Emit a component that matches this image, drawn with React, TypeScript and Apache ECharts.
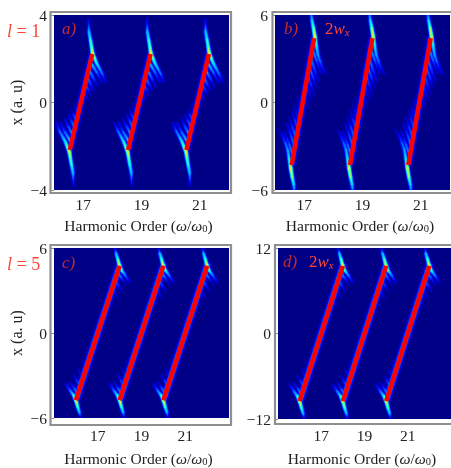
import React, { useEffect, useRef } from "react";
import * as echarts from "echarts";

type Node = [number, number, number];

const copyOffsets = [0, 2, 4];
const tickX = [17, 19, 21];
const harmonicTitle = "{n|Harmonic Order (}{i|ω}{n|/}{i|ω}{s|0}{n|)}";

// Red classical trajectories, first copy of each panel
const trajA: [number, number][] = [[16.54, -2.17], [17.31, 2.22]];
const trajB: [number, number][] = [[16.57, -4.29], [17.34, 4.42]];
const trajC: [number, number][] = [[16, -4.75], [18, 4.75]];
const trajD: [number, number][] = [[16, -9.5], [18, 9.5]];

// Bright arcs and fringes: [harmonic, x, relative intensity]
const streaksA: Node[][] = [
  [[16.54, -2.17, 0.3], [17.31, 2.22, 0.3]],
  [[17.18, 3.85, 0.1], [17.2, 3.22, 0.45], [17.25, 2.85, 0.6], [17.29, 2.53, 0.7], [17.32, 2.26, 0.88], [17.39, 2.03, 0.7], [17.46, 1.8, 0.55], [17.53, 1.62, 0.45], [17.66, 1.3, 0.3], [17.77, 0.94, 0.12]],
  [[17.29, 1.76, 0.5], [17.46, 1.39, 0.32], [17.63, 0.94, 0.12]],
  [[17.22, 1.44, 0.45], [17.35, 1.12, 0.28], [17.49, 0.75, 0.1]],
  [[17.15, 1.12, 0.42], [17.25, 0.84, 0.25], [17.35, 0.57, 0.1]],
  [[17.08, 0.8, 0.38], [17.18, 0.57, 0.22], [17.25, 0.34, 0.08]],
  [[17.01, 0.48, 0.32], [17.08, 0.3, 0.18], [17.15, 0.11, 0.06]],
  [[16.94, 0.16, 0.25], [17.01, -0.02, 0.1]],
  [[16.87, -0.16, 0.15], [16.94, -0.34, 0.06]],
  [[16.67, -3.85, 0.1], [16.65, -3.22, 0.45], [16.6, -2.85, 0.6], [16.56, -2.53, 0.7], [16.53, -2.26, 0.88], [16.46, -2.03, 0.7], [16.39, -1.8, 0.55], [16.32, -1.62, 0.45], [16.19, -1.3, 0.3], [16.08, -0.94, 0.12]],
  [[16.56, -1.76, 0.5], [16.39, -1.39, 0.32], [16.22, -0.94, 0.12]],
  [[16.63, -1.44, 0.45], [16.5, -1.12, 0.28], [16.36, -0.75, 0.1]],
  [[16.7, -1.12, 0.42], [16.6, -0.84, 0.25], [16.5, -0.57, 0.1]],
  [[16.77, -0.8, 0.38], [16.67, -0.57, 0.22], [16.6, -0.34, 0.08]],
  [[16.84, -0.48, 0.32], [16.77, -0.3, 0.18], [16.7, -0.11, 0.06]],
  [[16.91, -0.16, 0.25], [16.84, 0.02, 0.1]],
  [[16.98, 0.16, 0.15], [16.91, 0.34, 0.06]],
];

const streaksB: Node[][] = [
  [[16.57, -4.29, 0.3], [17.34, 4.42, 0.3]],
  [[17.24, 6.1, 0.3], [17.27, 5.6, 0.5], [17.32, 5.11, 0.72], [17.37, 4.5, 0.88], [17.42, 3.9, 0.55], [17.47, 3.26, 0.4], [17.55, 2.8, 0.3], [17.63, 2.37, 0.2], [17.77, 1.89, 0.08]],
  [[17.27, 3.7, 0.45], [17.42, 2.9, 0.3], [17.58, 2.0, 0.1]],
  [[17.22, 3.1, 0.42], [17.35, 2.3, 0.27], [17.5, 1.45, 0.1]],
  [[17.17, 2.5, 0.4], [17.3, 1.75, 0.25], [17.42, 1.0, 0.08]],
  [[17.12, 1.9, 0.35], [17.23, 1.2, 0.22], [17.33, 0.55, 0.08]],
  [[17.06, 1.3, 0.3], [17.16, 0.7, 0.18], [17.25, 0.1, 0.06]],
  [[17.01, 0.7, 0.25], [17.1, 0.1, 0.12], [17.17, -0.4, 0.05]],
  [[16.96, 0.1, 0.18], [17.04, -0.5, 0.06]],
  [[16.9, -0.5, 0.12], [16.98, -1.1, 0.05]],
  [[16.67, -6.1, 0.3], [16.64, -5.6, 0.5], [16.59, -5.11, 0.72], [16.54, -4.5, 0.88], [16.49, -3.9, 0.55], [16.44, -3.26, 0.4], [16.36, -2.8, 0.3], [16.28, -2.37, 0.2], [16.14, -1.89, 0.08]],
  [[16.64, -3.7, 0.45], [16.49, -2.9, 0.3], [16.33, -2.0, 0.1]],
  [[16.69, -3.1, 0.42], [16.56, -2.3, 0.27], [16.41, -1.45, 0.1]],
  [[16.74, -2.5, 0.4], [16.61, -1.75, 0.25], [16.49, -1.0, 0.08]],
  [[16.79, -1.9, 0.35], [16.68, -1.2, 0.22], [16.58, -0.55, 0.08]],
  [[16.85, -1.3, 0.3], [16.75, -0.7, 0.18], [16.66, -0.1, 0.06]],
  [[16.9, -0.7, 0.25], [16.81, -0.1, 0.12], [16.74, 0.4, 0.05]],
  [[16.95, -0.1, 0.18], [16.87, 0.5, 0.06]],
  [[17.01, 0.5, 0.12], [16.93, 1.1, 0.05]],
];

const streaksC: Node[][] = [
  [[16, -4.75, 0.45], [18, 4.75, 0.45]],
  [[17.78, 6.0, 0.12], [17.84, 5.6, 0.45], [17.92, 5.2, 0.65], [17.99, 4.78, 0.88], [18.1, 4.4, 0.6], [18.25, 4.09, 0.35], [18.4, 3.72, 0.18], [18.5, 3.5, 0.06]],
  [[17.85, 4.45, 0.5], [18.05, 3.95, 0.3], [18.28, 3.4, 0.08]],
  [[17.73, 3.9, 0.42], [17.93, 3.4, 0.25], [18.12, 2.9, 0.06]],
  [[17.6, 3.35, 0.35], [17.78, 2.85, 0.18], [17.95, 2.4, 0.05]],
  [[17.45, 2.75, 0.28], [17.62, 2.25, 0.12], [17.75, 1.9, 0.05]],
  [[17.3, 2.1, 0.18], [17.45, 1.6, 0.06]],
  [[16.22, -6.0, 0.12], [16.16, -5.6, 0.45], [16.08, -5.2, 0.65], [16.01, -4.78, 0.88], [15.9, -4.4, 0.6], [15.75, -4.09, 0.35], [15.6, -3.72, 0.18], [15.5, -3.5, 0.06]],
  [[16.15, -4.45, 0.5], [15.95, -3.95, 0.3], [15.72, -3.4, 0.08]],
  [[16.27, -3.9, 0.42], [16.07, -3.4, 0.25], [15.88, -2.9, 0.06]],
  [[16.4, -3.35, 0.35], [16.22, -2.85, 0.18], [16.05, -2.4, 0.05]],
  [[16.55, -2.75, 0.28], [16.38, -2.25, 0.12], [16.25, -1.9, 0.05]],
  [[16.7, -2.1, 0.18], [16.55, -1.6, 0.06]],
];

const streaksD: Node[][] = [
  [[16, -9.5, 0.45], [18, 9.5, 0.45]],
  [[17.78, 12.0, 0.12], [17.84, 11.2, 0.45], [17.92, 10.4, 0.65], [17.99, 9.56, 0.88], [18.1, 8.8, 0.6], [18.25, 8.18, 0.35], [18.4, 7.44, 0.18], [18.5, 7.0, 0.06]],
  [[17.85, 8.9, 0.5], [18.05, 7.9, 0.3], [18.28, 6.8, 0.08]],
  [[17.73, 7.8, 0.42], [17.93, 6.8, 0.25], [18.12, 5.8, 0.06]],
  [[17.6, 6.7, 0.35], [17.78, 5.7, 0.18], [17.95, 4.8, 0.05]],
  [[17.45, 5.5, 0.28], [17.62, 4.5, 0.12], [17.75, 3.8, 0.05]],
  [[17.3, 4.2, 0.18], [17.45, 3.2, 0.06]],
  [[16.22, -12.0, 0.12], [16.16, -11.2, 0.45], [16.08, -10.4, 0.65], [16.01, -9.56, 0.88], [15.9, -8.8, 0.6], [15.75, -8.18, 0.35], [15.6, -7.44, 0.18], [15.5, -7.0, 0.06]],
  [[16.15, -8.9, 0.5], [15.95, -7.9, 0.3], [15.72, -6.8, 0.08]],
  [[16.27, -7.8, 0.42], [16.07, -6.8, 0.25], [15.88, -5.8, 0.06]],
  [[16.4, -6.7, 0.35], [16.22, -5.7, 0.18], [16.05, -4.8, 0.05]],
  [[16.55, -5.5, 0.28], [16.38, -4.5, 0.12], [16.25, -3.8, 0.05]],
  [[16.7, -4.2, 0.18], [16.55, -3.2, 0.06]],
];

const levels = [0.04, 0.08, 0.13, 0.2, 0.28, 0.37, 0.47, 0.58, 0.7, 0.82];
const levelColors = ["#0000a8", "#0000cc", "#0000f0", "#0030ff", "#0070ff", "#00b0ff", "#00e8f0", "#40ffb0", "#b0ff50", "#ffe020"];

const SERIF = "'Liberation Serif', 'Times New Roman', serif";
const INK = "#222222";
const FRAME = "#8f8f8f";
const NAVY = "#000086";

const panels = [
  { left: 54, top: 15, width: 175, height: 175, xMin: 16, xMax: 22, yTicks: [-4, 0, 4], traj: trajA, streaks: streaksA, sigma: 1.25, title: true, tickGap: 6, nameGap: 27, shift: 6 },
  { left: 275, top: 15, width: 175, height: 175, xMin: 16, xMax: 22, yTicks: [-6, 0, 6], traj: trajB, streaks: streaksB, sigma: 1.25, title: false, tickGap: 6, nameGap: 27, shift: 5 },
  { left: 54, top: 248, width: 175, height: 174, xMin: 15, xMax: 23, yTicks: [-6, 0, 6], traj: trajC, streaks: streaksC, sigma: 1.2, title: true, tickGap: 9, nameGap: 32, shift: 6 },
  { left: 278, top: 248, width: 173, height: 173, xMin: 15, xMax: 23, yTicks: [-12, 0, 12], traj: trajD, streaks: streaksD, sigma: 1.2, title: false, tickGap: 8, nameGap: 31, shift: 5 },
];

function buildCells(streaks: Node[][], sigma: number) {
  const cells: number[][] = [];
  levels.forEach((level, li) => {
    streaks.forEach((nodes, si) => {
      const s = si === 0 ? sigma * 1.9 : sigma;
      copyOffsets.forEach((off) => {
        for (let i = 0; i + 1 < nodes.length; i++) {
          const a = nodes[i];
          const b = nodes[i + 1];
          if (a[2] <= level && b[2] <= level) continue;
          cells.push([a[0] + off, a[1], a[2], b[0] + off, b[1], b[2], li, s]);
        }
      });
    });
  });
  return cells;
}

function contourWidth(v: number, level: number, sigma: number) {
  return v > level ? 2 * sigma * Math.sqrt(2 * Math.log(v / level)) : 0;
}

function renderCell(_: unknown, api: any) {
  const li = api.value(6);
  const level = levels[li];
  const sigma = api.value(7);
  const color = levelColors[li];
  let v0 = api.value(2);
  let v1 = api.value(5);
  let p0 = api.coord([api.value(0), api.value(1)]);
  let p1 = api.coord([api.value(3), api.value(4)]);
  if (v0 < level || v1 < level) {
    const t = (level - v0) / (v1 - v0);
    const mid = [p0[0] + (p1[0] - p0[0]) * t, p0[1] + (p1[1] - p0[1]) * t];
    if (v0 < level) {
      p0 = mid;
      v0 = level;
    } else {
      p1 = mid;
      v1 = level;
    }
  }
  const w0 = contourWidth(v0, level, sigma) / 2;
  const w1 = contourWidth(v1, level, sigma) / 2;
  const dx = p1[0] - p0[0];
  const dy = p1[1] - p0[1];
  const len = Math.hypot(dx, dy) || 1;
  const nx = -dy / len;
  const ny = dx / len;
  const style = { fill: color, stroke: color, lineWidth: 0.3 };
  const children: any[] = [
    {
      type: "polygon",
      shape: {
        points: [
          [p0[0] + nx * w0, p0[1] + ny * w0],
          [p1[0] + nx * w1, p1[1] + ny * w1],
          [p1[0] - nx * w1, p1[1] - ny * w1],
          [p0[0] - nx * w0, p0[1] - ny * w0],
        ],
      },
      style,
    },
  ];
  if (w1 > 0.4) children.push({ type: "circle", shape: { cx: p1[0], cy: p1[1], r: w1 }, style: { fill: color } });
  return { type: "group", children };
}

const minusLabel = (v: number) => String(v).replace("-", "\u2212");

function buildOption() {
  const titleRich = {
    n: { fontFamily: SERIF, fontSize: 15.6, color: INK },
    i: { fontFamily: SERIF, fontSize: 15.6, fontStyle: "italic", color: INK },
    s: { fontFamily: SERIF, fontSize: 10.5, color: INK, padding: [6, 0, 0, 0] },
  };
  const series: any[] = [];
  panels.forEach((p, idx) => {
    series.push({
      type: "custom",
      xAxisIndex: idx,
      yAxisIndex: idx,
      clip: true,
      silent: true,
      z: 2,
      encode: { x: [0, 3], y: [1, 4] },
      data: buildCells(p.streaks, p.sigma),
      renderItem: renderCell,
    });
    copyOffsets.forEach((off) => {
      series.push({
        type: "line",
        xAxisIndex: idx,
        yAxisIndex: idx,
        symbol: "none",
        silent: true,
        clip: true,
        z: 3,
        lineStyle: { color: "#ff0000", width: 4.5, cap: "butt" },
        data: p.traj.map(([x, y]) => [x + off, y]),
      });
    });
  });

  const red = "#ff4536";
  const darkRed = "#c42a2a";
  const tag = (x: number, y: number, text: string, fill: string, size = 17) => ({
    type: "text",
    x,
    y,
    z: 10,
    style: { text, fill, font: `italic ${size}px ${SERIF}`, textVerticalAlign: "middle" },
  });
  const richTag = (x: number, y: number, text: string, rich: any) => ({
    type: "text",
    x,
    y,
    z: 10,
    style: { text, rich, textVerticalAlign: "middle", fill: red },
  });
  const lRich = {
    i: { fontFamily: SERIF, fontSize: 18, lineHeight: 12, fontStyle: "italic", color: red },
    n: { fontFamily: SERIF, fontSize: 18, lineHeight: 12, color: red },
  };
  const wRich = {
    n: { fontFamily: SERIF, fontSize: 17, color: "#e02828" },
    i: { fontFamily: SERIF, fontSize: 17, fontStyle: "italic", color: "#e02828" },
    s: { fontFamily: SERIF, fontSize: 11, fontStyle: "italic", color: "#e02828", padding: [7, 0, 0, 0] },
  };
  const frame = (x: number, y: number, width: number, height: number) => ({
    type: "rect",
    shape: { x, y, width, height },
    z: 1,
    style: { fill: "none", stroke: FRAME, lineWidth: 2.2 },
  });

  return {
    animation: false,
    backgroundColor: "#ffffff",
    grid: panels.map((p) => ({
      left: p.left,
      top: p.top,
      width: p.width,
      height: p.height,
      show: true,
      backgroundColor: NAVY,
      borderWidth: 0,
      containLabel: false,
    })),
    xAxis: panels.map((p, idx) => ({
      type: "value",
      gridIndex: idx,
      min: p.xMin,
      max: p.xMax,
      splitLine: { show: false },
      axisLine: { show: false },
      axisTick: { show: true, inside: false, length: 3, customValues: tickX, lineStyle: { color: FRAME, width: 1 } },
      axisLabel: { customValues: tickX, fontFamily: SERIF, fontSize: 15.5, color: INK, margin: p.tickGap },
      name: harmonicTitle,
      nameLocation: "middle",
      nameGap: p.nameGap,
      nameTextStyle: { rich: titleRich, fontFamily: SERIF, fontSize: 15.6, color: INK, padding: [0, p.shift, 0, 0] },
    })),
    yAxis: panels.map((p, idx) => ({
      type: "value",
      gridIndex: idx,
      min: p.yTicks[0],
      max: p.yTicks[2],
      splitLine: { show: false },
      axisLine: { show: false },
      axisTick: { show: true, inside: false, length: 3, customValues: p.yTicks, lineStyle: { color: FRAME, width: 1 } },
      axisLabel: { customValues: p.yTicks, formatter: minusLabel, fontFamily: SERIF, fontSize: 15.5, color: INK, margin: 7 },
      ...(p.title
        ? { name: "x (a. u)", nameLocation: "middle", nameGap: 30, nameTextStyle: { fontFamily: SERIF, fontSize: 16, color: INK } }
        : {}),
    })),
    series,
    graphic: {
      elements: [
        frame(50.5, 12, 180.5, 181),
        frame(272.5, 12, 190, 181),
        frame(50.5, 245, 180.5, 180),
        frame(275, 245, 190, 179),
        richTag(7, 30.5, "{i|l}{n| = 1}", lRich),
        richTag(7, 264, "{i|l}{n| = 5}", lRich),
        tag(62, 28, "a)", darkRed),
        tag(284, 28, "b)", darkRed),
        tag(62, 262, "c)", darkRed),
        tag(283, 261, "d)", darkRed),
        richTag(325, 28, "{n|2}{i|w}{s|x}", wRich),
        richTag(309, 261, "{n|2}{i|w}{s|x}", wRich),
      ],
    },
  };
}

export default function App() {
  const ref = useRef<HTMLDivElement>(null);
  useEffect(() => {
    document.body.style.margin = "0";
    const chart = echarts.init(ref.current!, undefined, { renderer: "svg" });
    chart.setOption(buildOption() as any);
    return () => chart.dispose();
  }, []);
  return <div ref={ref} style={{ width: 451, height: 468, overflow: "hidden", filter: "blur(0.35px)" }} />;
}
